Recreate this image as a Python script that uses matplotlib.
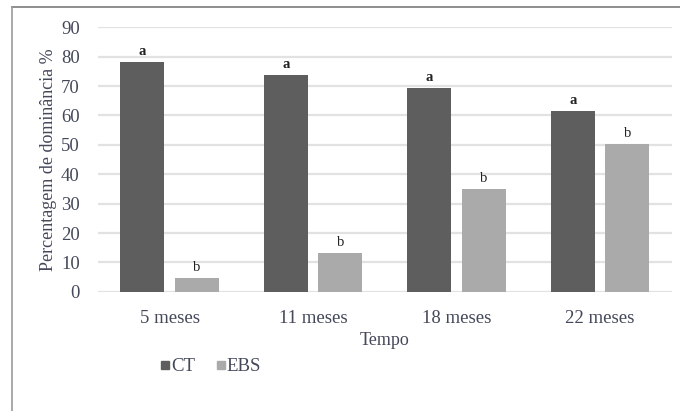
import matplotlib
matplotlib.use("Agg")
import matplotlib.pyplot as plt
import numpy as np
from matplotlib.lines import Line2D

categories = ["5 meses", "11 meses", "18 meses", "22 meses"]
ct_values = [78.3, 73.8, 69.4, 61.6]
ebs_values = [4.6, 13.3, 35.0, 50.3]
ct_letters = ["a", "a", "a", "a"]
ebs_letters = ["b", "b", "b", "b"]
series_names = ["CT", "EBS"]
y_ticks = [0, 10, 20, 30, 40, 50, 60, 70, 80, 90]

plt.rcParams["font.family"] = ["Liberation Serif", "DejaVu Serif"]
text_color = "#44495a"
ct_color = "#5e5e5e"
ebs_color = "#aaaaaa"

fig = plt.figure(figsize=(6.8, 4.11), dpi=100)
ax = fig.add_axes([0.144, 0.290, 0.844, 0.6436])

x = np.arange(len(categories))
width = 0.307
offset = 0.19
ax.bar(x - offset, ct_values, width, color=ct_color, zorder=3)
ax.bar(x + offset, ebs_values, width, color=ebs_color, zorder=3)

for xi, v, t in zip(x, ct_values, ct_letters):
    ax.text(xi - offset, v + 1.3, t, ha="center", va="bottom", fontsize=10.5,
            color="#222222", fontweight="bold")
for xi, v, t in zip(x, ebs_values, ebs_letters):
    ax.text(xi + offset, v + 1.3, t, ha="center", va="bottom", fontsize=10.5,
            color="#222222")

ax.set_xlim(-0.5, len(categories) - 0.5)
ax.set_ylim(0, 90)
ax.set_yticks(y_ticks)
ax.yaxis.grid(True, color="#e2e2e2", linewidth=1.6, zorder=0)
ax.set_axisbelow(True)
for s in ax.spines.values():
    s.set_visible(False)
ax.tick_params(axis="both", length=0, labelsize=13.5, colors=text_color)
ax.tick_params(axis="y", pad=13)
ax.tick_params(axis="x", pad=13)
ax.set_xticks(x)
ax.set_xticklabels(categories)

ax.set_ylabel("Percentagem de dominância %", fontsize=13, color=text_color, labelpad=3)
ax.set_xlabel("Tempo", fontsize=13, color=text_color, labelpad=4)

handles = [Line2D([], [], marker="s", linestyle="none", markersize=6, color=ct_color),
           Line2D([], [], marker="s", linestyle="none", markersize=6, color=ebs_color)]
fig.legend(handles, series_names, loc="center left", bbox_to_anchor=(0.207, 0.108),
           ncol=2, frameon=False, handletextpad=-0.1,
           columnspacing=1.0, labelcolor=text_color, handlelength=0.8,
           prop={"family": ["Liberation Serif"], "size": 13.5})

# outer frame (top and left edges)
fig.add_artist(Line2D([11.5 / 680, 1.0], [1 - 7.5 / 411, 1 - 7.5 / 411],
                      transform=fig.transFigure, color="#7a7a7a", linewidth=1.2))
fig.add_artist(Line2D([11.5 / 680, 11.5 / 680], [0, 1 - 7.5 / 411],
                      transform=fig.transFigure, color="#9a9a9a", linewidth=1.2))

fig.savefig("out.png", dpi=100)
